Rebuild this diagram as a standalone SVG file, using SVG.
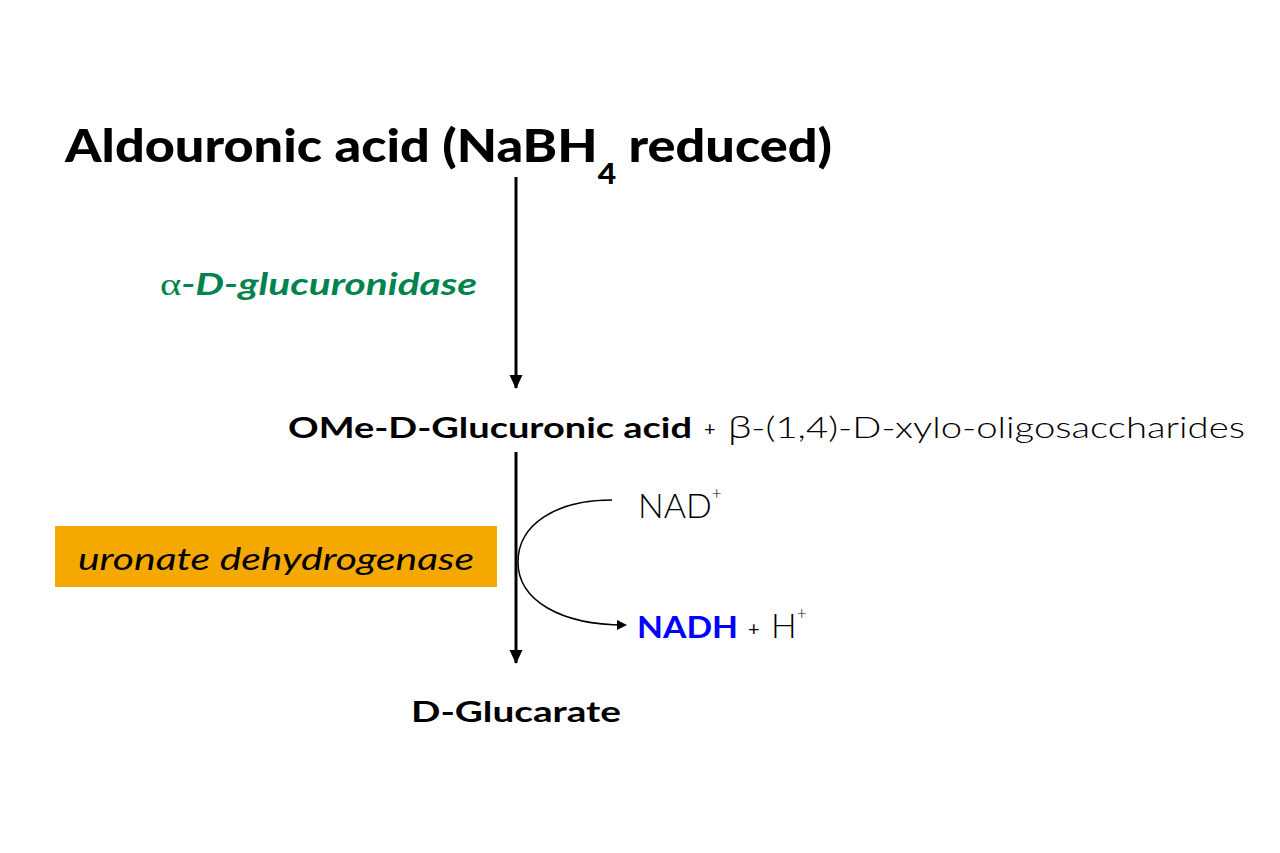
<svg xmlns="http://www.w3.org/2000/svg" width="1280" height="853" viewBox="0 0 1280 853">
<defs>
<style>
text{font-family:Lato,"Open Sans","Liberation Sans",sans-serif;}
.b{font-weight:700;}
.l{font-weight:300;}
.sym{font-family:"Liberation Serif","DejaVu Serif",serif;font-style:normal;font-weight:400;}
.beta{font-family:"Open Sans","DejaVu Sans",sans-serif;font-weight:300;}
</style>
<marker id="ah" markerWidth="10" markerHeight="10" refX="8" refY="5" orient="auto" markerUnits="userSpaceOnUse">
<path d="M0,0 L10,5 L0,10 z" fill="#000"/>
</marker>
<marker id="ah2" markerWidth="14" markerHeight="14" refX="13" refY="7" orient="auto" markerUnits="userSpaceOnUse">
<path d="M0,0.5 L14,7 L0,13.5 z" fill="#000"/>
</marker>
</defs>
<rect width="1280" height="853" fill="#fff"/>
<g id="n-aldouronic">
<text x="65" y="162" font-weight="900" font-size="46" fill="#000" textLength="767" lengthAdjust="spacingAndGlyphs">Aldouronic acid (NaBH<tspan font-size="28" dy="22">4</tspan><tspan dy="-22"> reduced)</tspan></text>
</g>
<g id="n-enzyme1">
<text x="160" y="295" font-size="31" fill="#00834E" font-style="italic" class="b" textLength="317" lengthAdjust="spacingAndGlyphs"><tspan class="sym">α</tspan>-D-glucuronidase</text>
</g>
<g id="n-ome">
<text x="288" y="438" class="b" font-size="29" fill="#000" textLength="404" lengthAdjust="spacingAndGlyphs">OMe-D-Glucuronic acid</text>
<text x="704" y="436" font-size="20" fill="#000">+</text>
<text x="728" y="438" class="l" font-size="30" fill="#000" textLength="517" lengthAdjust="spacingAndGlyphs"><tspan class="beta">β</tspan>-(1,4)-D-xylo-oligosaccharides</text>
</g>
<g id="n-enzyme2">
<rect x="55" y="526" width="442" height="61" fill="#F5A800"/>
<text x="78" y="570" font-size="31" font-style="italic" fill="#000" textLength="396" lengthAdjust="spacingAndGlyphs">uronate dehydrogenase</text>
</g>
<g id="n-nad">
<text x="638" y="518" class="l" font-size="34" fill="#000">NAD<tspan font-size="17" dy="-19">+</tspan></text>
</g>
<g id="n-nadh">
<text x="637" y="638" class="b" font-size="30" fill="#0000FF" textLength="101" lengthAdjust="spacingAndGlyphs">NADH</text>
<text x="748" y="636" font-size="20" fill="#000">+</text>
<text x="771" y="638" class="l" font-size="34" fill="#000">H<tspan font-size="17" dy="-19">+</tspan></text>
</g>
<g id="n-glucarate">
<text x="411" y="722" class="b" font-size="29" fill="#000" textLength="210" lengthAdjust="spacingAndGlyphs">D-Glucarate</text>
</g>
<g id="connectors" fill="none" stroke="#000">
<line x1="516" y1="177" x2="516" y2="388" stroke-width="3" marker-end="url(#ah2)"/>
<line x1="516" y1="452" x2="516" y2="663" stroke-width="3" marker-end="url(#ah2)"/>
<path d="M612,500 C555,500 518,525 518,562 C518,600 560,625 625,625" stroke-width="1.5" marker-end="url(#ah)"/>
</g>
</svg>
